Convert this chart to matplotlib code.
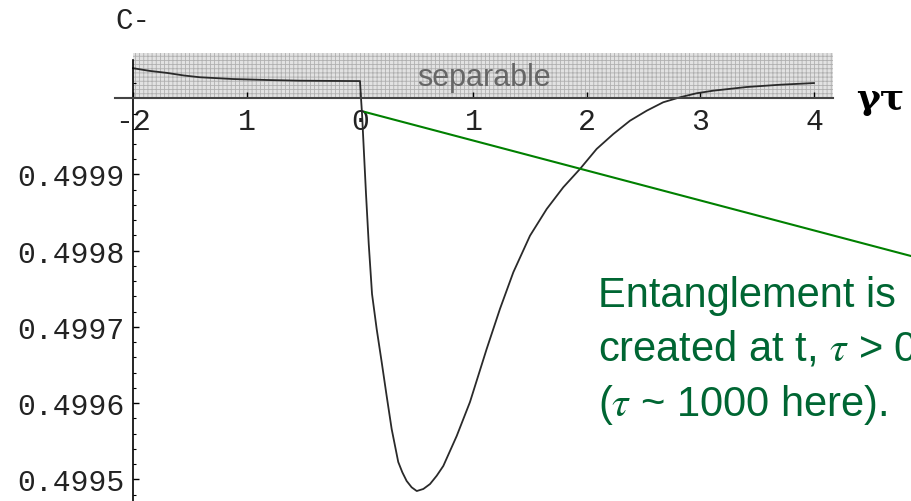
import matplotlib.pyplot as plt
from matplotlib.ticker import FixedLocator
from matplotlib.lines import Line2D

plt.rcParams['hatch.linewidth'] = 0.6
plt.rcParams['mathtext.fontset'] = 'stix'

# C- against gamma*tau, before and after the interaction starts at 0
gamma_tau = [-2.0, -1.85, -1.7, -1.55, -1.41, -1.12, -0.82, -0.53, -0.25, 0.0,
             0.009, 0.018, 0.053, 0.077, 0.106, 0.147, 0.191, 0.235, 0.279, 0.337,
             0.373, 0.411, 0.455, 0.5, 0.558, 0.617, 0.676, 0.734, 0.852, 0.969,
             1.116, 1.233, 1.351, 1.498, 1.645, 1.791, 1.938, 2.085, 2.232, 2.379,
             2.526, 2.672, 2.819, 2.966, 3.113, 3.407, 3.7, 4.0]
c_minus = [0.5000395, 0.5000359, 0.5000333, 0.5000299, 0.5000276, 0.5000253, 0.500024, 0.5000231, 0.5000228, 0.5000226,
           0.5, 0.4999794, 0.4998744, 0.4998088, 0.4997432, 0.4996972, 0.4996539, 0.4996093, 0.499566, 0.4995227,
           0.4995092, 0.4994978, 0.4994895, 0.4994846, 0.4994873, 0.4994938, 0.4995047, 0.4995175, 0.4995568, 0.4996014,
           0.499671, 0.4997235, 0.4997717, 0.4998197, 0.4998547, 0.4998832, 0.4999072, 0.4999335, 0.4999531, 0.4999706,
           0.4999837, 0.4999948, 0.5000013, 0.5000066, 0.50001, 0.5000148, 0.5000178, 0.50002]

x_ticks = [-2, -1, 0, 1, 2, 3, 4]
x_ticklabels = ['-2', '1', '0', '1', '2', '3', '4']
y_ticks = [0.4995, 0.4996, 0.4997, 0.4998, 0.4999]
y_minor = [0.49948,
           0.49952, 0.49954, 0.49956, 0.49958,
           0.49962, 0.49964, 0.49966, 0.49968,
           0.49972, 0.49974, 0.49976, 0.49978,
           0.49982, 0.49984, 0.49986, 0.49988,
           0.49992, 0.49994, 0.49996, 0.49998,
           0.50002, 0.50004]

# separable band above the axis
band_x = (-2.0, 4.167)
band_y = (0.5, 0.500059)

fig = plt.figure(figsize=(9.11, 5.02), dpi=100)
ax = fig.add_axes([0, 0, 1, 1])
ax.set_xlim(-3.172, 4.855)
ax.set_ylim(0.49947152, 0.50013031)

ax.fill_between(band_x, band_y[0], band_y[1], facecolor='#e2e2e2',
                edgecolor='#b0b0b0', hatch='++++', linewidth=0, zorder=1)
ax.text(1.09, 0.5000285, 'separable', color='#666666', fontsize=22,
        family='Liberation Sans', ha='center', va='center', zorder=3)

ax.plot(gamma_tau, c_minus, color='#2a2a2a', lw=1.3, zorder=4)

for s in ['top', 'right']:
    ax.spines[s].set_visible(False)
ax.spines['left'].set_position(('data', -2))
ax.spines['bottom'].set_position(('data', 0.5))
ax.spines['left'].set_bounds(0.49947152, 0.50005)
ax.spines['bottom'].set_bounds(-2.16, 4.167)
ax.spines['left'].set_linewidth(1.2)
ax.spines['bottom'].set_linewidth(1.5)
ax.spines['bottom'].set_color('#444444')
ax.spines['left'].set_zorder(5)
ax.spines['bottom'].set_zorder(5)

ax.xaxis.set_major_locator(FixedLocator(x_ticks))
ax.set_xticklabels(x_ticklabels)
ax.yaxis.set_major_locator(FixedLocator(y_ticks))
ax.set_yticklabels(['%.4f' % v for v in y_ticks])
ax.yaxis.set_minor_locator(FixedLocator(y_minor))

for lab in ax.get_xticklabels() + ax.get_yticklabels():
    lab.set_fontfamily('Liberation Mono')
    lab.set_fontsize(21.5)
    lab.set_color('#222222')
ax.tick_params(axis='x', direction='in', length=4, width=1, pad=6)
ax.tick_params(axis='y', which='major', direction='in', length=4, width=1, pad=6)
ax.tick_params(axis='y', which='minor', direction='in', length=2.5, width=0.8)

fig.text(133 / 911, 1 - 21 / 502, 'C-', fontsize=21, family='Liberation Mono',
         ha='center', va='center', color='#222222')
fig.text(880 / 911, 1 - 99 / 502, 'γτ', fontsize=26, family='DejaVu Serif',
         weight='bold', ha='center', va='center')

# pointer from the origin to the note
fig.add_artist(Line2D([365 / 911, 1.0], [1 - 113 / 502, 1 - 257 / 502],
                      color='#008000', lw=1.5, transform=fig.transFigure))
fig.text(598 / 911, 1 - 276 / 502,
         'Entanglement is\ncreated at t, $\\tau$ > 0\n($\\tau$ ~ 1000 here).',
         fontsize=30, family='Liberation Sans', color='#006633',
         ha='left', va='top', linespacing=1.42)

fig.savefig('out.png', dpi=100)
